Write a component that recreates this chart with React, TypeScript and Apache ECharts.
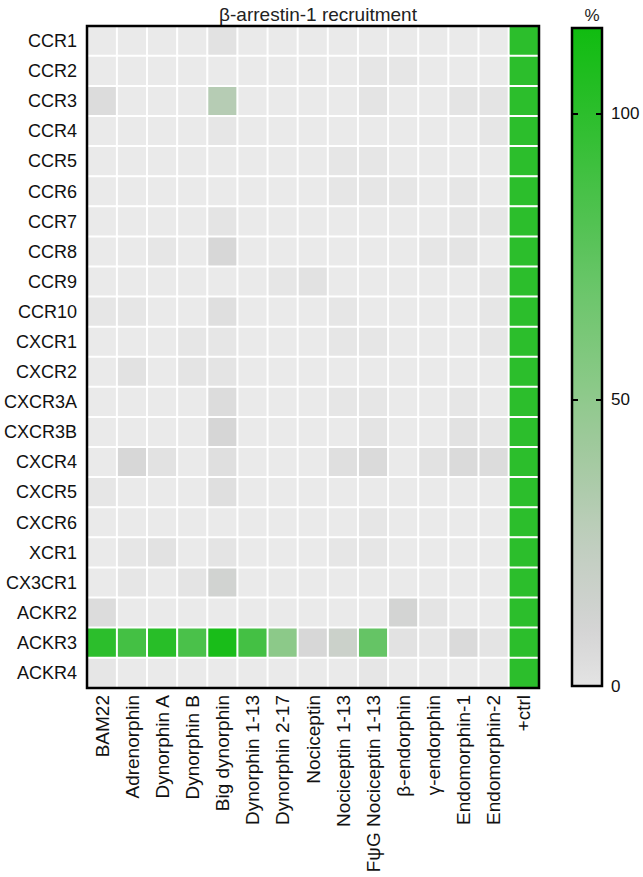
import React, { useEffect, useRef } from "react";
import * as echarts from "echarts";

const TITLE = "β-arrestin-1 recruitment";
const UNIT = "%";

const receptors = [
  "CCR1", "CCR2", "CCR3", "CCR4", "CCR5", "CCR6", "CCR7", "CCR8", "CCR9", "CCR10",
  "CXCR1", "CXCR2", "CXCR3A", "CXCR3B", "CXCR4", "CXCR5", "CXCR6", "XCR1", "CX3CR1",
  "ACKR2", "ACKR3", "ACKR4",
];

const ligands = [
  "BAM22", "Adrenorphin", "Dynorphin A", "Dynorphin B", "Big dynorphin",
  "Dynorphin 1-13", "Dynorphin 2-17", "Nociceptin", "Nociceptin 1-13",
  "FψG Nociceptin 1-13", "β-endorphin", "γ-endorphin", "Endomorphin-1",
  "Endomorphin-2", "+ctrl",
];

// % recruitment per receptor (one value per ligand, same order as ligands)
const CCR1 = [-4, -4, -4, -4, 1, -4, -4, -4, -4, -4, -4, -4, -4, -4, 100];
const CCR2 = [-4, -4, -4, -4, -4, -4, -4, -4, -4, -1, -1, -4, -4, -4, 100];
const CCR3 = [5, -4, -4, -4, 30, -4, -4, -4, -4, 0, -4, -4, 0, 0, 100];
const CCR4 = [-4, -4, -4, -4, -1, -4, -4, -4, -4, -4, -4, -4, -4, -1, 100];
const CCR5 = [-4, -4, -4, -4, -4, -4, -4, -4, -1, -1, -4, -4, -4, -4, 100];
const CCR6 = [-4, -4, -4, -4, -4, -4, -4, -4, -1, -1, -1, -4, -1, -4, 100];
const CCR7 = [-4, -4, -4, -4, 0, -4, -4, -4, -4, -4, -4, -4, -1, -1, 100];
const CCR8 = [-4, -4, -1, -4, 8, -4, -4, -4, -4, -4, -4, -1, 0, -4, 100];
const CCR9 = [-4, -4, -4, -4, -4, -4, -1, 1, -4, -4, -4, -4, -4, -1, 100];
const CCR10 = [-1, -1, -4, -4, 3, -4, -4, -4, -1, -4, -4, -4, -4, -1, 100];
const CXCR1 = [-4, -4, -4, -1, -1, -4, -4, -4, -1, -1, -4, -4, -4, -1, 100];
const CXCR2 = [-4, 1, -4, 0, 0, -4, -4, -4, -4, -4, -4, -4, -4, -4, 100];
const CXCR3A = [-4, -4, -4, -4, 5, -4, -4, -4, -1, -1, -4, -4, -1, -4, 100];
const CXCR3B = [-4, -4, -4, -4, 9, -4, -4, -4, -4, 0, -4, -4, 1, -1, 100];
const CXCR4 = [-4, 8, 1, -4, 3, -4, -4, -4, 3, 6, -4, 1, 6, 5, 100];
const CXCR5 = [-1, -4, -4, -4, 3, -4, -4, -4, -4, -4, -4, -4, -4, -4, 100];
const CXCR6 = [-4, -4, -4, -4, -4, -4, -4, -4, -4, -1, -4, -4, -4, -4, 100];
const XCR1 = [-4, -1, 1, -4, 0, -4, -4, -4, -1, -1, -4, -4, -4, -4, 100];
const CX3CR1 = [-4, -1, -4, 0, 12, -4, -4, -4, -4, -4, -4, -4, -4, -4, 100];
const ACKR2 = [5, -4, -4, -4, -4, -4, -4, -4, -4, -4, 11, 0, -4, -4, 100];
const ACKR3 = [100, 88, 102, 85, 110, 88, 52, 8, 17, 72, 1, -1, 6, 0, 100];
const ACKR4 = [-1, -4, -4, -4, -4, -4, -4, -4, -4, -1, -4, -4, -4, -4, 100];

const rowValues = [
  CCR1, CCR2, CCR3, CCR4, CCR5, CCR6, CCR7, CCR8, CCR9, CCR10,
  CXCR1, CXCR2, CXCR3A, CXCR3B, CXCR4, CXCR5, CXCR6, XCR1, CX3CR1,
  ACKR2, ACKR3, ACKR4,
];

// colour scale
const SCALE_MIN = -5;
const SCALE_MAX = 115;
const SCALE_COLORS = [
  "#ECECEC", "#D4D4D4", "#C0CEBE", "#A3C9A0", "#86C983",
  "#69C569", "#4AC14A", "#2CBE2C", "#10BC10",
];
// colour bar range and ticks
const BAR_MIN = 0;
const BAR_MAX = 115;
const BAR_TICK = 50;

const FONT = "'Liberation Sans', Arial, Helvetica, sans-serif";

function hexToRgb(h: string) {
  const n = parseInt(h.slice(1), 16);
  return [(n >> 16) & 255, (n >> 8) & 255, n & 255];
}
function colorAt(v: number) {
  const t = (v - SCALE_MIN) / (SCALE_MAX - SCALE_MIN);
  const pos = Math.max(0, Math.min(1, t)) * (SCALE_COLORS.length - 1);
  const i = Math.min(Math.floor(pos), SCALE_COLORS.length - 2);
  const f = pos - i;
  const a = hexToRgb(SCALE_COLORS[i]);
  const b = hexToRgb(SCALE_COLORS[i + 1]);
  const c = a.map((x, k) => Math.round(x + (b[k] - x) * f));
  return `rgb(${c[0]},${c[1]},${c[2]})`;
}

export default function App() {
  const ref = useRef<HTMLDivElement>(null);

  useEffect(() => {
    if (!ref.current) return;
    const chart = echarts.init(ref.current, null, { renderer: "svg" });

    const data: number[][] = [];
    rowValues.forEach((row, r) => {
      row.forEach((v, c) => data.push([c, r, v]));
    });

    // gradient stops for the colour bar, from BAR_MIN (bottom) to BAR_MAX (top)
    const stops: { offset: number; color: string }[] = [];
    const nStops = 24;
    for (let i = 0; i <= nStops; i++) {
      const v = BAR_MIN + ((BAR_MAX - BAR_MIN) * i) / nStops;
      stops.push({ offset: i / nStops, color: colorAt(v) });
    }

    const G = { left: 87, top: 26, width: 452, height: 662 };
    const CB = { left: 572, top: 28, width: 30, height: 658 };

    const tickStyle = { show: true, inside: true, length: 6, lineStyle: { color: "#000", width: 2 } };

    chart.setOption({
      animation: false,
      backgroundColor: "#ffffff",
      textStyle: { fontFamily: FONT },
      title: [
        {
          text: TITLE,
          left: G.left + G.width / 2,
          top: 0,
          textAlign: "center",
          textStyle: { fontSize: 19, fontWeight: "normal", color: "#222", fontFamily: FONT },
        },
        {
          text: UNIT,
          left: CB.left + CB.width / 2,
          top: 2,
          textAlign: "center",
          textStyle: { fontSize: 17, fontWeight: "normal", color: "#222", fontFamily: FONT },
        },
      ],
      grid: [
        { left: G.left, top: G.top, width: G.width, height: G.height },
        { left: CB.left, top: CB.top, width: CB.width, height: CB.height },
      ],
      xAxis: [
        {
          type: "category",
          gridIndex: 0,
          data: ligands,
          position: "bottom",
          axisLine: { show: false },
          axisTick: { show: false },
          splitLine: { show: false },
          axisLabel: {
            interval: 0,
            rotate: 90,
            margin: 7,
            fontSize: 19,
            color: "#111",
            fontFamily: FONT,
          },
        },
        {
          type: "category",
          gridIndex: 1,
          data: ["bar"],
          show: false,
        },
      ],
      yAxis: [
        {
          type: "category",
          gridIndex: 0,
          data: receptors,
          inverse: true,
          axisLine: { show: false },
          axisTick: { show: false },
          splitLine: { show: false },
          axisLabel: {
            interval: 0,
            margin: 10,
            fontSize: 18,
            color: "#111",
            fontFamily: FONT,
          },
        },
        {
          type: "value",
          gridIndex: 1,
          min: BAR_MIN,
          max: BAR_MAX,
          interval: BAR_TICK,
          position: "left",
          z: 20,
          axisLine: { show: false },
          axisTick: tickStyle,
          axisLabel: { show: false },
          splitLine: { show: false },
        },
        {
          type: "value",
          gridIndex: 1,
          min: BAR_MIN,
          max: BAR_MAX,
          interval: BAR_TICK,
          position: "right",
          z: 20,
          axisLine: { show: false },
          axisTick: tickStyle,
          axisLabel: {
            show: true,
            margin: 9,
            fontSize: 17,
            color: "#111",
            fontFamily: FONT,
            showMaxLabel: false,
            formatter: (v: number) => (v % BAR_TICK === 0 ? String(v) : ""),
          },
          splitLine: { show: false },
        },
      ],
      visualMap: {
        type: "continuous",
        show: false,
        seriesIndex: 0,
        min: SCALE_MIN,
        max: SCALE_MAX,
        inRange: { color: SCALE_COLORS },
      },
      series: [
        {
          type: "heatmap",
          xAxisIndex: 0,
          yAxisIndex: 0,
          data,
          itemStyle: { borderColor: "#ffffff", borderWidth: 2 },
          emphasis: { disabled: true },
        },
        {
          type: "bar",
          xAxisIndex: 1,
          yAxisIndex: 1,
          data: [BAR_MAX],
          barWidth: "100%",
          z: 1,
          itemStyle: {
            color: new echarts.graphic.LinearGradient(0, 1, 0, 0, stops),
          },
        },
      ],
      graphic: [
        {
          type: "rect",
          shape: { x: G.left, y: G.top, width: G.width, height: G.height },
          style: { fill: "none", stroke: "#000", lineWidth: 2.5 },
          z: 100,
          silent: true,
        },
        {
          type: "rect",
          shape: { x: CB.left, y: CB.top, width: CB.width, height: CB.height },
          style: { fill: "none", stroke: "#000", lineWidth: 2.5 },
          z: 100,
          silent: true,
        },
      ],
    });

    return () => chart.dispose();
  }, []);

  return (
    <div
      ref={ref}
      style={{ position: "fixed", left: 0, top: 0, width: 643, height: 877, background: "#fff" }}
    />
  );
}
